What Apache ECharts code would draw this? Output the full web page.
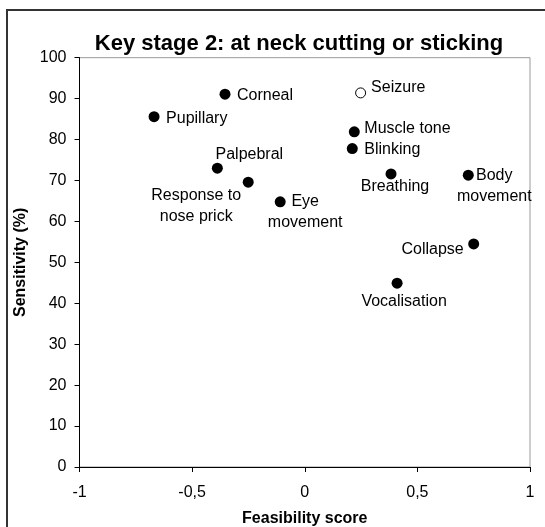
<!DOCTYPE html>
<html>
<head>
<meta charset="utf-8">
<script src="https://cdn.jsdelivr.net/npm/echarts@6/dist/echarts.min.js"></script>
<style>html,body{margin:0;padding:0;background:#fff;}#c{width:545px;height:527px;}</style>
</head>
<body>
<div id="c"></div>
<script>
// ---- data ----
var titleText = 'Key stage 2: at neck cutting or sticking';
var xName = 'Feasibility score';
var yName = 'Sensitivity (%)';
var names = ['Corneal','Pupillary','Palpebral','Response to\nnose prick','Eye\nmovement','Seizure','Muscle tone','Blinking','Breathing','Body\nmovement','Collapse','Vocalisation'];
var feasibility = [-0.354,-0.669,-0.388,-0.251,-0.109,0.248,0.220,0.211,0.383,0.726,0.750,0.410];
var sensitivity = [91.1,85.6,73.0,69.6,64.8,91.4,81.9,77.8,71.6,71.3,54.5,44.9];
var hollow = [false,false,false,false,false,true,false,false,false,false,false,false];
var xTicks = [-1,-0.5,0,0.5,1];
var yTicks = [0,10,20,30,40,50,60,70,80,90,100];

// ---- label placement (style only): [align, dx, dy] from dot centre ----
var labelPlace = {
  'Corneal':['left',12,1],
  'Pupillary':['left',12,2],
  'Palpebral':['center',32,-14],
  'Response to\nnose prick':['center',-52,24],
  'Eye\nmovement':['center',25,10],
  'Seizure':['left',11,-5],
  'Muscle tone':['left',10,-3],
  'Blinking':['left',12,1],
  'Breathing':['center',4,13],
  'Body\nmovement':['center',26,11],
  'Collapse':['right',-10,6],
  'Vocalisation':['center',7,18]
};

var FONT = '"Liberation Sans", Arial, sans-serif';
var data = names.map(function(n,i){
  var p = labelPlace[n];
  var sz = hollow[i] ? 10 : 11;
  return {
    name: n,
    value: [feasibility[i], sensitivity[i]],
    symbolSize: sz,
    itemStyle: hollow[i] ? {color:'#fff', borderColor:'#000', borderWidth:1, opacity:1} : {color:'#000', opacity:1},
    label: {
      show: true, formatter: n,
      position: [sz/2 + p[1], sz/2 + p[2]],
      align: p[0], verticalAlign: 'middle',
      color: '#000', fontFamily: FONT, fontSize: 16, lineHeight: 21
    }
  };
});

var chart = echarts.init(document.getElementById('c'), null, {renderer:'canvas'});
chart.setOption({
  animation: false,
  backgroundColor: '#fff',
  title: {
    text: titleText, left: 294, top: 28, textAlign: 'center',
    textStyle: {fontFamily: FONT, fontSize: 22, fontWeight: 'bold', color: '#000'}
  },
  graphic: [{
    type: 'rect', shape: {x: 7, y: 10, width: 560, height: 540},
    style: {fill: 'none', stroke: '#333', lineWidth: 2}, silent: true
  }],
  grid: {left: 79.5, right: 15, top: 57.7, bottom: 60, outerBoundsMode: 'none', containLabel: false,
    show: true, borderColor: '#999', borderWidth: 1, backgroundColor: 'transparent'},
  xAxis: {
    type: 'value', min: xTicks[0], max: xTicks[xTicks.length-1], interval: 0.5,
    name: xName, nameLocation: 'middle', nameGap: 44,
    nameTextStyle: {fontFamily: FONT, fontSize: 16, fontWeight: 'bold', color: '#000'},
    axisLine: {show: true, onZero: false, lineStyle: {color: '#000', width: 1}},
    axisTick: {show: true, inside: false, length: 5, lineStyle: {color: '#000'}},
    splitLine: {show: false},
    axisLabel: {fontFamily: FONT, fontSize: 16, color: '#000', margin: 18,
      formatter: function(v){ return String(v).replace('.', ','); }}
  },
  yAxis: {
    type: 'value', min: yTicks[0], max: yTicks[yTicks.length-1], interval: 10,
    name: yName, nameLocation: 'middle', nameGap: 49,
    nameTextStyle: {fontFamily: FONT, fontSize: 16, fontWeight: 'bold', color: '#000'},
    axisLine: {show: true, onZero: false, lineStyle: {color: '#000', width: 1}},
    axisTick: {show: true, inside: false, length: 5, lineStyle: {color: '#000'}},
    splitLine: {show: false},
    axisLabel: {fontFamily: FONT, fontSize: 16, color: '#000', margin: 13}
  },
  series: [{
    type: 'scatter', symbol: 'circle', data: data,
    emphasis: {disabled: true}
  }]
});
</script>
</body>
</html>
